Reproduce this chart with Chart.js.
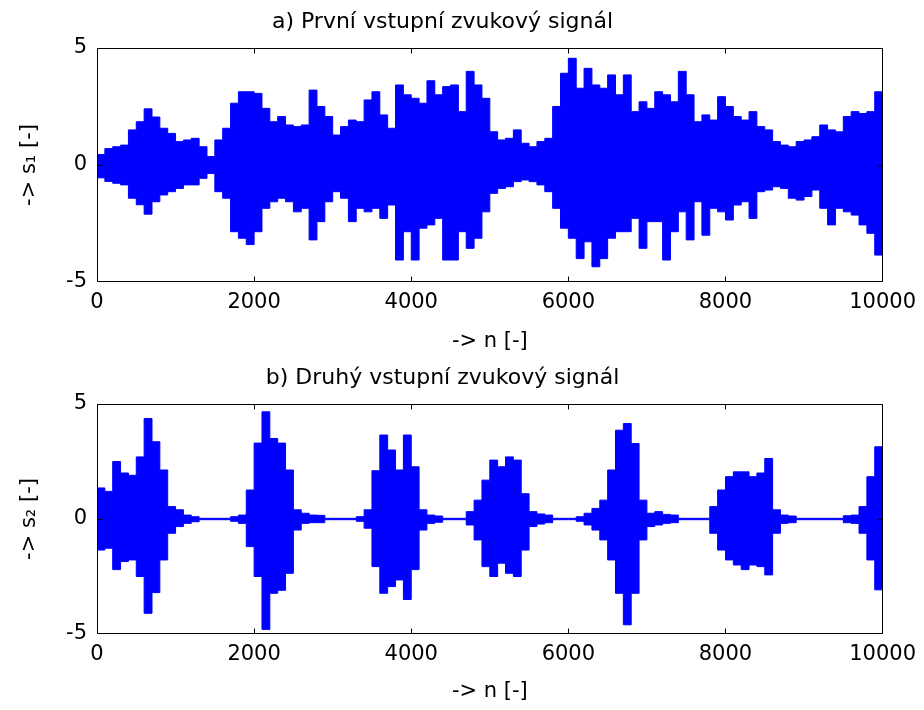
<!DOCTYPE html>
<html><head><meta charset="utf-8">
<script src="https://cdn.jsdelivr.net/npm/chart.js@4"></script>
<style>
html,body{margin:0;padding:0;background:#fff;}
#wrap{position:relative;width:924px;height:710px;overflow:hidden;}
.box{position:absolute;left:0;width:924px;height:355px;}
</style></head><body>
<div id="wrap">
<div class="box" style="top:0"><canvas id="c1"></canvas></div>
<div class="box" style="top:355px"><canvas id="c2"></canvas></div>
</div>
<script>
// ---- data (per 100-sample bin: max and min of the signal) ----
const binSize = 100;
const xTicks = [0, 2000, 4000, 6000, 8000, 10000];
const yTicks = [-5, 0, 5];
const titleA = 'a) První vstupní zvukový signál';
const titleB = 'b) Druhý vstupní zvukový signál';
const xLabel = '-> n [-]';
const yLabelA = '-> s₁ [-]';
const yLabelB = '-> s₂ [-]';

const s1Upper = [
  0.45, 0.7, 0.78, 0.85, 1.5, 1.85, 2.4, 2.05, 1.57, 1.35, 1.0, 1.07, 1.14, 0.78, 0.36, 1.07, 1.57, 2.64, 3.13, 3.13, 3.06, 2.42, 1.85, 2.07, 1.71,
  1.64, 1.71, 3.2, 2.5, 2.07, 1.28, 1.64, 1.92, 1.85, 2.78, 3.13, 2.14, 1.57, 3.42, 3.0, 2.85, 2.64, 3.6, 3.0, 3.35, 3.42, 2.28, 4.0, 3.42, 2.85,
  1.42, 1.07, 1.14, 1.5, 0.93, 0.78, 1.0, 1.14, 2.5, 3.92, 4.56, 3.28, 4.13, 3.42, 3.28, 3.85, 3.0, 3.85, 2.28, 2.7, 2.42, 3.13, 3.0, 2.7, 4.0,
  3.0, 1.85, 2.14, 1.92, 2.92, 2.5, 2.07, 1.92, 2.28, 1.64, 1.5, 1.0, 0.85, 0.78, 1.0, 1.07, 1.21, 1.71, 1.5, 1.42, 2.07, 2.28, 2.2, 2.28, 3.13
];
const s1Lower = [
  -0.55, -0.7, -0.78, -0.85, -1.42, -1.7, -2.1, -1.57, -1.28, -1.14, -1.0, -0.85, -0.85, -0.57, -0.36, -1.14, -1.42, -2.85, -3.13, -3.4, -2.85, -1.85, -1.57, -1.42, -1.57,
  -2.0, -1.85, -3.2, -2.42, -1.57, -1.14, -1.42, -2.42, -1.85, -2.0, -1.85, -2.28, -1.71, -4.06, -2.85, -4.06, -2.7, -2.56, -2.28, -4.06, -4.06, -2.85, -3.56, -3.13, -2.0,
  -1.21, -1.0, -0.93, -0.71, -0.64, -0.71, -0.85, -1.14, -1.85, -2.7, -3.13, -4.0, -3.28, -4.35, -4.0, -3.13, -2.85, -2.85, -2.28, -3.56, -2.42, -2.42, -4.06, -2.85, -2.0,
  -3.2, -1.57, -3.0, -1.85, -2.0, -2.35, -1.71, -1.57, -2.28, -1.14, -1.07, -0.93, -1.0, -1.42, -1.5, -1.35, -1.07, -1.85, -2.56, -1.85, -2.0, -2.14, -2.56, -2.92, -3.85
];
const s2Upper = [
  1.35, 1.2, 2.5, 2.0, 1.9, 2.7, 4.37, 3.36, 2.13, 0.54, 0.4, 0.17, 0.1, 0.03, 0.03, 0.03, 0.03, 0.1, 0.17, 1.26, 3.3, 4.66, 3.5, 3.3, 2.13,
  0.4, 0.25, 0.17, 0.16, 0.03, 0.03, 0.03, 0.03, 0.1, 0.4, 2.1, 3.65, 3.0, 2.13, 3.65, 2.27, 0.4, 0.17, 0.13, 0.03, 0.03, 0.03, 0.32, 0.82, 1.69,
  2.56, 2.27, 2.7, 2.56, 1.1, 0.32, 0.22, 0.17, 0.03, 0.03, 0.03, 0.1, 0.25, 0.46, 0.82, 2.13, 3.86, 4.15, 3.28, 0.82, 0.25, 0.32, 0.2, 0.17, 0.03,
  0.03, 0.03, 0.03, 0.54, 1.26, 1.84, 2.05, 2.05, 1.84, 2.0, 2.63, 0.4, 0.17, 0.13, 0.03, 0.03, 0.03, 0.03, 0.03, 0.03, 0.14, 0.17, 0.54, 1.84, 3.14
];
const s2Lower = [
  -1.35, -1.27, -2.2, -1.85, -1.78, -2.5, -4.1, -3.2, -1.78, -0.62, -0.33, -0.19, -0.12, -0.03, -0.03, -0.03, -0.03, -0.1, -0.19, -1.2, -2.5, -4.8, -3.23, -3.1, -2.36,
  -0.48, -0.19, -0.16, -0.16, -0.03, -0.03, -0.03, -0.03, -0.1, -0.4, -2.07, -3.23, -2.94, -2.65, -3.5, -2.2, -0.48, -0.19, -0.14, -0.03, -0.03, -0.03, -0.26, -0.91, -2.07,
  -2.5, -1.92, -2.36, -2.5, -1.35, -0.33, -0.22, -0.16, -0.03, -0.03, -0.03, -0.1, -0.26, -0.48, -0.91, -1.78, -3.23, -4.6, -3.23, -0.91, -0.33, -0.26, -0.19, -0.16, -0.03,
  -0.03, -0.03, -0.03, -0.62, -1.35, -1.78, -2.0, -2.2, -2.0, -2.07, -2.43, -0.62, -0.19, -0.16, -0.03, -0.03, -0.03, -0.03, -0.03, -0.03, -0.16, -0.19, -0.62, -1.78, -3.08
];

// ---- rendering ----
const FONT = "'DejaVu Sans', 'Liberation Sans', Arial, sans-serif";
const BLUE = '#0000ff';

// each bin value holds from its start sample to the next bin start
function stepData(arr) {
  const d = arr.map((v, i) => ({ x: i * binSize, y: v }));
  d.push({ x: arr.length * binSize, y: arr[arr.length - 1] });
  return d;
}

const framePlugin = {
  id: 'matlabFrame',
  afterDatasetsDraw(chart) {
    const { ctx, chartArea: a, scales } = chart;
    const L = Math.round(a.left) + 0.5, R = Math.round(a.right) - 0.5;
    const T = Math.round(a.top) + 0.5, B = Math.round(a.bottom) - 0.5;
    ctx.save();
    ctx.strokeStyle = '#000';
    ctx.lineWidth = 1;
    ctx.beginPath();
    ctx.rect(L, T, R - L, B - T);
    const tl = 5;
    xTicks.forEach(v => {
      let px = Math.round(scales.x.getPixelForValue(v)) + 0.5;
      if (px > R) px = R;
      ctx.moveTo(px, B); ctx.lineTo(px, B - tl);
      ctx.moveTo(px, T); ctx.lineTo(px, T + tl);
    });
    yTicks.forEach(v => {
      let py = Math.round(scales.y.getPixelForValue(v)) + 0.5;
      if (py > B) py = B;
      ctx.moveTo(L, py); ctx.lineTo(L + tl, py);
      ctx.moveTo(R, py); ctx.lineTo(R - tl, py);
    });
    ctx.stroke();
    ctx.restore();
  }
};

function makeChart(id, upper, lower, title, yLabel, cfg) {
  return new Chart(document.getElementById(id), {
    type: 'line',
    data: {
      datasets: [
        { data: stepData(upper), stepped: 'before', borderColor: BLUE, backgroundColor: BLUE,
          borderWidth: 1, pointRadius: 0, fill: '+1' },
        { data: stepData(lower), stepped: 'before', borderColor: BLUE, backgroundColor: BLUE,
          borderWidth: 1, pointRadius: 0, fill: false }
      ]
    },
    options: {
      responsive: true,
      maintainAspectRatio: false,
      animation: false,
      devicePixelRatio: 1,
      events: [],
      layout: { padding: { left: 0, right: 39, top: 0, bottom: 0 } },
      plugins: {
        legend: { display: false },
        tooltip: { enabled: false },
        title: {
          display: true, text: title, color: '#000',
          font: { family: FONT, size: 22, weight: 'normal' },
          padding: { top: cfg.titleTop, bottom: cfg.titleBottom }
        }
      },
      scales: {
        x: {
          type: 'linear', min: 0, max: 10000,
          afterBuildTicks: s => { s.ticks = xTicks.map(v => ({ value: v })); },
          afterFit: s => { s.height = cfg.xHeight; },
          grid: { display: false, drawTicks: false },
          border: { display: false },
          ticks: { color: '#000', font: { family: FONT, size: 21 }, padding: 8, maxRotation: 0,
                   callback: v => String(v) },
          title: { display: true, text: xLabel, color: '#000',
                   font: { family: FONT, size: 21 }, padding: { top: 0, bottom: cfg.xTitleBottom } }
        },
        y: {
          min: -5, max: 5,
          afterBuildTicks: s => { s.ticks = yTicks.map(v => ({ value: v })); },
          afterFit: s => { s.width = 97; },
          grid: { display: false, drawTicks: false },
          border: { display: false },
          ticks: { color: '#000', font: { family: FONT, size: 21 }, padding: 10,
                   callback: v => String(v) },
          title: { display: true, text: yLabel, color: '#000',
                   font: { family: FONT, size: 21 }, padding: { top: 17, bottom: 0 } }
        }
      }
    },
    plugins: [framePlugin]
  });
}

makeChart('c1', s1Upper, s1Lower, titleA, yLabelA,
  { titleTop: 9, titleBottom: 12.6, xHeight: 73, xTitleBottom: 1 });
makeChart('c2', s2Upper, s2Lower, titleB, yLabelB,
  { titleTop: 10, titleBottom: 12.6, xHeight: 76, xTitleBottom: 5.4 });
</script>
</body></html>
